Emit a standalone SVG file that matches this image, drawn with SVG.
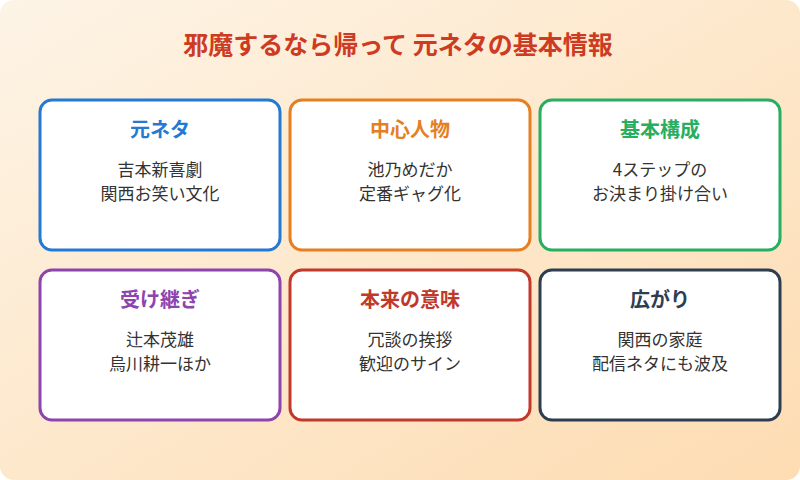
<svg xmlns="http://www.w3.org/2000/svg" width="800" height="480" viewBox="0 0 800 480">
<defs>
<linearGradient id="bg" x1="0" y1="0" x2="1" y2="1">
<stop offset="0" stop-color="#fdf4e6"/><stop offset="1" stop-color="#fddcb2"/>
</linearGradient>
<style>
text{font-family:"Noto Sans CJK JP","Noto Sans",sans-serif;text-anchor:middle}
.card{fill:#fff;stroke-width:3}
.h{font-size:20px;font-weight:bold}
.t{font-size:17px;fill:#333}
</style>
</defs>
<rect width="800" height="480" rx="14" fill="url(#bg)"/>
<text x="398" y="54" font-size="25" font-weight="bold" fill="#cc3b22">邪魔するなら帰って 元ネタの基本情報</text>
<g id="n1"><rect class="card" x="40" y="100" width="240" height="150" rx="12" stroke="#2479d2"/><text class="h" x="160" y="137" fill="#2479d2">元ネタ</text><text class="t" x="160" y="176">吉本新喜劇</text><text class="t" x="160" y="200">関西お笑い文化</text></g>
<g id="n2"><rect class="card" x="290" y="100" width="240" height="150" rx="12" stroke="#e67e22"/><text class="h" x="410" y="137" fill="#e67e22">中心人物</text><text class="t" x="410" y="176">池乃めだか</text><text class="t" x="410" y="200">定番ギャグ化</text></g>
<g id="n3"><rect class="card" x="540" y="100" width="240" height="150" rx="12" stroke="#27ae60"/><text class="h" x="660" y="137" fill="#27ae60">基本構成</text><text class="t" x="660" y="176">4ステップの</text><text class="t" x="660" y="200">お決まり掛け合い</text></g>
<g id="n4"><rect class="card" x="40" y="270" width="240" height="150" rx="12" stroke="#8e44ad"/><text class="h" x="160" y="307" fill="#8e44ad">受け継ぎ</text><text class="t" x="160" y="346">辻本茂雄</text><text class="t" x="160" y="370">烏川耕一ほか</text></g>
<g id="n5"><rect class="card" x="290" y="270" width="240" height="150" rx="12" stroke="#c0392b"/><text class="h" x="410" y="307" fill="#c0392b">本来の意味</text><text class="t" x="410" y="346">冗談の挨拶</text><text class="t" x="410" y="370">歓迎のサイン</text></g>
<g id="n6"><rect class="card" x="540" y="270" width="240" height="150" rx="12" stroke="#2c3e50"/><text class="h" x="660" y="307" fill="#2c3e50">広がり</text><text class="t" x="660" y="346">関西の家庭</text><text class="t" x="660" y="370">配信ネタにも波及</text></g>
<g id="connectors"/>
</svg>
